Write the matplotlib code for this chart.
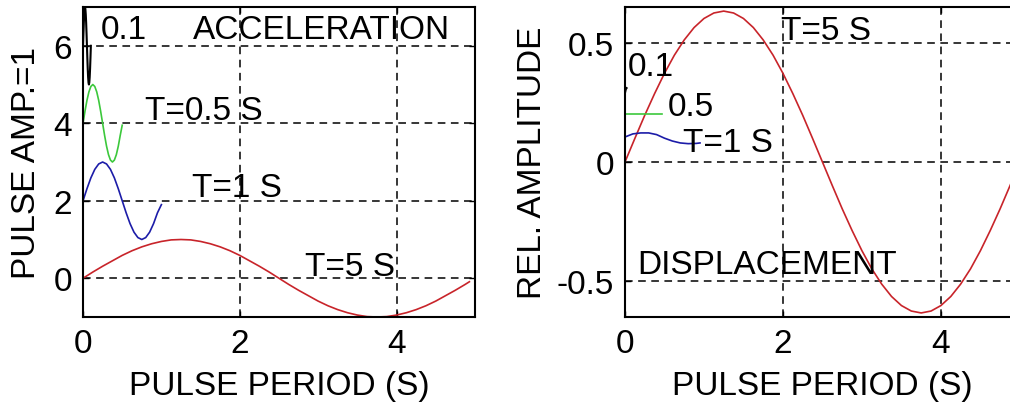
"""Acceleration / displacement response of sine pulses of several periods."""

import matplotlib.pyplot as plt

plt.rcParams["font.family"] = ["Liberation Sans", "DejaVu Sans"]

# ---- acceleration (left panel), pulse amplitude = 1, curves offset ----
acc_t01_x = [0.0, 0.005, 0.01, 0.015, 0.02, 0.025, 0.03, 0.035, 0.04, 0.045, 0.05,
             0.055, 0.06, 0.065, 0.07, 0.075, 0.08, 0.085, 0.09, 0.095, 0.10]
acc_t01_y = [6.0, 6.31, 6.59, 6.81, 6.95, 7.0, 6.95, 6.81, 6.59, 6.31, 6.0,
             5.69, 5.41, 5.19, 5.05, 5.0, 5.05, 5.19, 5.41, 5.69, 6.0]

acc_t05_x = [0.0, 0.025, 0.05, 0.075, 0.10, 0.125, 0.15, 0.175, 0.20, 0.225, 0.25,
             0.275, 0.30, 0.325, 0.35, 0.375, 0.40, 0.425, 0.45, 0.475, 0.50]
acc_t05_y = [4.0, 4.31, 4.59, 4.81, 4.95, 5.0, 4.95, 4.81, 4.59, 4.31, 4.0,
             3.69, 3.41, 3.19, 3.05, 3.0, 3.05, 3.19, 3.41, 3.69, 3.95]

acc_t1_x = [0.0, 0.05, 0.1, 0.15, 0.2, 0.25, 0.3, 0.35, 0.4, 0.45, 0.5,
            0.55, 0.6, 0.65, 0.7, 0.75, 0.8, 0.85, 0.9, 0.95, 1.0]
acc_t1_y = [2.0, 2.31, 2.59, 2.81, 2.95, 3.0, 2.95, 2.81, 2.59, 2.31, 2.0,
            1.69, 1.41, 1.19, 1.05, 1.0, 1.05, 1.19, 1.41, 1.69, 1.9]

acc_t5_x = [0.0, 0.125, 0.25, 0.375, 0.5, 0.625, 0.75, 0.875, 1.0, 1.125, 1.25,
            1.375, 1.5, 1.625, 1.75, 1.875, 2.0, 2.125, 2.25, 2.375, 2.5,
            2.625, 2.75, 2.875, 3.0, 3.125, 3.25, 3.375, 3.5, 3.625, 3.75,
            3.875, 4.0, 4.125, 4.25, 4.375, 4.5, 4.625, 4.75, 4.875, 4.93]
acc_t5_y = [0.0, 0.16, 0.31, 0.45, 0.59, 0.71, 0.81, 0.89, 0.95, 0.99, 1.0,
            0.99, 0.95, 0.89, 0.81, 0.71, 0.59, 0.45, 0.31, 0.16, 0.0,
            -0.16, -0.31, -0.45, -0.59, -0.71, -0.81, -0.89, -0.95, -0.99, -1.0,
            -0.99, -0.95, -0.89, -0.81, -0.71, -0.59, -0.45, -0.31, -0.16, -0.09]

# ---- displacement (right panel), relative amplitude ----
dis_t01_x = [0.0, 0.01, 0.02]
dis_t01_y = [0.29, 0.305, 0.31]

dis_t05_x = [0.0, 0.1, 0.2, 0.3, 0.4, 0.47]
dis_t05_y = [0.20, 0.20, 0.20, 0.20, 0.20, 0.20]

dis_t1_x = [0.0, 0.1, 0.2, 0.3, 0.4, 0.5, 0.6, 0.7, 0.8, 0.9, 0.95]
dis_t1_y = [0.105, 0.118, 0.122, 0.122, 0.115, 0.10, 0.088, 0.08, 0.077, 0.078, 0.08]

dis_t5_x = [0.0, 0.125, 0.25, 0.375, 0.5, 0.625, 0.75, 0.875, 1.0, 1.125, 1.25,
            1.375, 1.5, 1.625, 1.75, 1.875, 2.0, 2.125, 2.25, 2.375, 2.5,
            2.625, 2.75, 2.875, 3.0, 3.125, 3.25, 3.375, 3.5, 3.625, 3.75,
            3.875, 4.0, 4.125, 4.25, 4.375, 4.5, 4.625, 4.75, 4.875, 5.0]
dis_t5_y = [0.0, 0.099, 0.196, 0.287, 0.372, 0.448, 0.512, 0.564, 0.602, 0.625, 0.633,
            0.625, 0.602, 0.564, 0.512, 0.448, 0.372, 0.287, 0.196, 0.099, 0.0,
            -0.099, -0.196, -0.287, -0.372, -0.448, -0.512, -0.564, -0.602, -0.625, -0.633,
            -0.625, -0.602, -0.564, -0.512, -0.448, -0.372, -0.287, -0.196, -0.099, 0.0]

x_ticks = [0, 2, 4]
acc_yticks = [0, 2, 4, 6]
dis_yticks = [-0.5, 0, 0.5]

RED = "#c8242a"
BLUE = "#1c1ca8"
GREEN = "#3cc83c"
FS = 24


def style(ax):
    ax.grid(True, color="black", linewidth=1.1, linestyle=(0, (5, 3.6)))
    ax.set_axisbelow(True)
    for s in ax.spines.values():
        s.set_linewidth(1.5)
    ax.tick_params(direction="in", top=True, right=True, length=4, width=1,
                   labelsize=FS, pad=8)


fig = plt.figure(figsize=(10.1, 4.1), dpi=100)
fig.patch.set_facecolor("white")

ax1 = fig.add_axes([0.0822, 0.2244, 0.388, 0.756])
ax1.plot(acc_t5_x, acc_t5_y, color=RED, lw=1.2)
ax1.plot(acc_t1_x, acc_t1_y, color=BLUE, lw=1.2)
ax1.plot(acc_t05_x, acc_t05_y, color=GREEN, lw=1.2)
ax1.plot(acc_t01_x, acc_t01_y, color="black", lw=1.5)
ax1.set_xlim(0, 5)
ax1.set_ylim(-1, 7)
ax1.set_xticks(x_ticks)
ax1.set_yticks(acc_yticks)
style(ax1)
ax1.set_xlabel("PULSE PERIOD (S)", fontsize=FS, labelpad=8)
ax1.set_ylabel("PULSE AMP.=1", fontsize=FS, labelpad=8)
ax1.text(0.22, 6.41, "0.1", fontsize=FS, ha="left", va="center")
ax1.text(1.40, 6.41, "ACCELERATION", fontsize=FS, ha="left", va="center")
ax1.text(0.79, 4.34, "T=0.5 S", fontsize=FS, ha="left", va="center")
ax1.text(1.39, 2.34, "T=1 S", fontsize=FS, ha="left", va="center")
ax1.text(2.83, 0.31, "T=5 S", fontsize=FS, ha="left", va="center")

ax2 = fig.add_axes([0.6188, 0.2244, 0.391, 0.756])
ax2.plot(dis_t5_x, dis_t5_y, color=RED, lw=1.2)
ax2.plot(dis_t1_x, dis_t1_y, color=BLUE, lw=1.2)
ax2.plot(dis_t05_x, dis_t05_y, color=GREEN, lw=1.2)
ax2.plot(dis_t01_x, dis_t01_y, color="black", lw=1.5)
ax2.set_xlim(0, 5)
ax2.set_ylim(-0.65, 0.65)
ax2.set_xticks(x_ticks)
ax2.set_yticks(dis_yticks)
ax2.set_yticklabels(["-0.5", "0", "0.5"])
style(ax2)
ax2.set_xlabel("PULSE PERIOD (S)", fontsize=FS, labelpad=8)
ax2.set_ylabel("REL. AMPLITUDE", fontsize=FS, labelpad=6)
ax2.text(1.98, 0.55, "T=5 S", fontsize=FS, ha="left", va="center")
ax2.text(0.04, 0.40, "0.1", fontsize=FS, ha="left", va="center")
ax2.text(0.54, 0.233, "0.5", fontsize=FS, ha="left", va="center")
ax2.text(0.73, 0.08, "T=1 S", fontsize=FS, ha="left", va="center")
ax2.text(0.15, -0.43, "DISPLACEMENT", fontsize=FS, ha="left", va="center")

fig.savefig("out.png", dpi=100, facecolor="white")
